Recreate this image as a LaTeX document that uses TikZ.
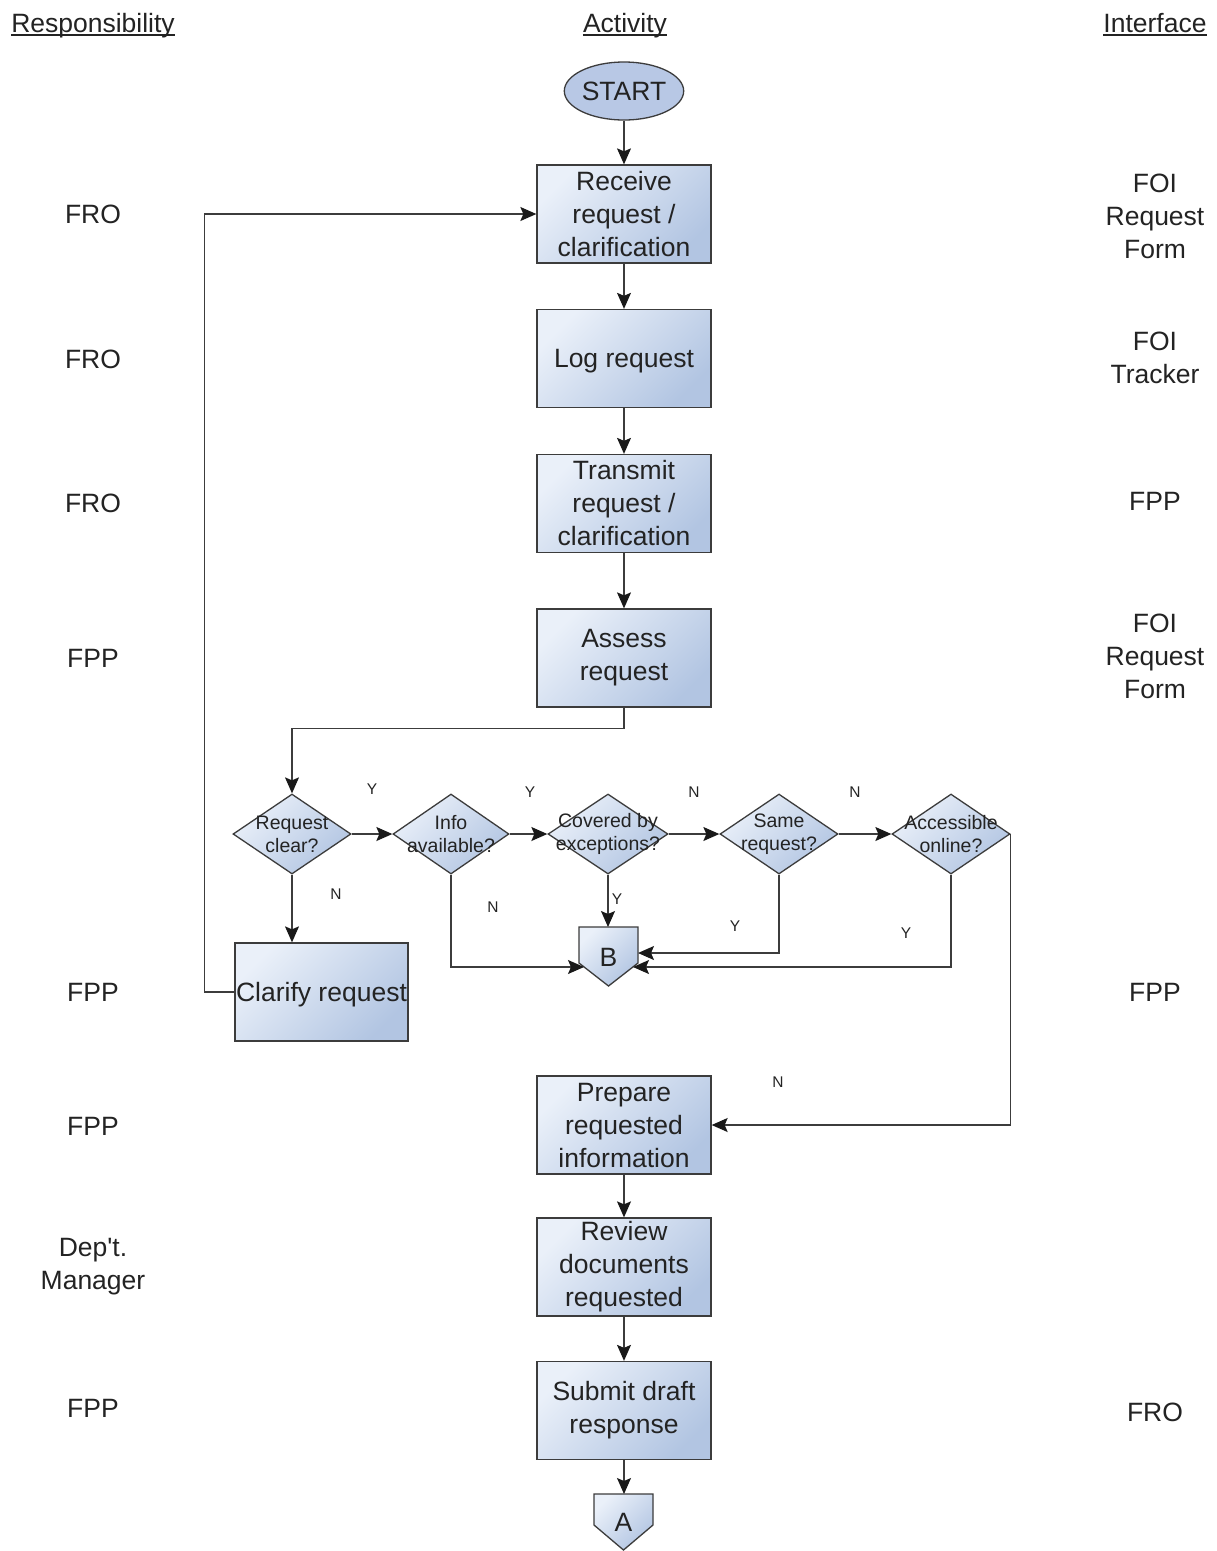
\documentclass[tikz,border=0pt]{standalone}
\usepackage{fontspec}
\setmainfont{Liberation Sans}
\usetikzlibrary{shapes.geometric,arrows.meta,calc}
\definecolor{txt}{RGB}{35,35,35}
\definecolor{ln}{RGB}{60,60,60}
\definecolor{fillL}{RGB}{234,240,249}
\definecolor{fillR}{RGB}{178,197,226}
\definecolor{startfill}{RGB}{184,200,229}
\newcommand\bigtxt{\fontsize{26.5}{33}\selectfont}
\begin{document}
\begin{tikzpicture}[x=1pt,y=-1pt,
  every node/.style={text=txt},
  boxshade/.style={left color=fillL,right color=fillR,shading angle=45},
  activity/.style={draw=ln,line width=1.3pt,boxshade,minimum width=174pt,minimum height=98pt,inner sep=1pt,align=center,font=\bigtxt},
  decision/.style={diamond,draw=ln,line width=1.3pt,boxshade,minimum width=118pt,minimum height=80pt,inner sep=0pt},
  dtext/.style={align=center,font=\fontsize{19.5}{23}\selectfont,inner sep=0pt},
  lab/.style={align=center,font=\bigtxt},
  head/.style={font=\bigtxt,inner sep=0pt,anchor=base},
  yn/.style={font=\fontsize{15.5}{18}\selectfont},
  arr/.style={draw=ln,line width=1.3pt,-{Stealth[length=16pt,width=14pt,inset=3pt,color=black!90]}},
  conn/.style={draw=ln,line width=1.3pt,boxshade},
  uline/.style={draw=txt,line width=1.2pt},
]
\useasboundingbox (0,0) rectangle (1217,1551);
\fill[white] (0,0) rectangle (1217,1551);

% headers
\node[head] (hR) at (93,32) {Responsibility};
\node[head] (hA) at (625,32) {Activity};
\node[head] (hI) at (1155,32) {Interface};
\draw[uline] ($(hR.base west)+(0,3)$) -- ($(hR.base east)+(0,3)$);
\draw[uline] ($(hA.base west)+(0,3)$) -- ($(hA.base east)+(0,3)$);
\draw[uline] ($(hI.base west)+(0,3)$) -- ($(hI.base east)+(0,3)$);

% start
\node[ellipse,draw=ln,line width=1.3pt,fill=startfill,minimum width=118pt,minimum height=58pt,inner sep=0pt,font=\bigtxt] (start) at (624,91) {START};

% activity boxes
\node[activity] (receive) at (624,214) {Receive\\request /\\clarification};
\node[activity,text depth=0pt] (log) at (624,358.5) {Log request};
\node[activity] (transmit) at (624,503.5) {Transmit\\request /\\clarification};
\node[activity] (assess) at (624,658) {Assess\\request};
\node[activity,minimum width=173pt,text depth=0pt] (clarify) at (321.5,992) {Clarify request};
\node[activity] (prepare) at (624,1125) {Prepare\\requested\\information};
\node[activity] (review) at (624,1267) {Review\\documents\\requested};
\node[activity] (submit) at (624,1410.5) {Submit draft\\response};

% decisions
\node[decision] (d1) at (292,834) {};
\node[dtext] (d1t) at (d1) {Request\\clear?};
\node[decision,minimum width=116pt] (d2) at (451,834) {};
\node[dtext] (d2t) at (d2) {Info\\available?};
\node[decision,minimum width=120pt] (d3) at (608,834) {};
\node[dtext] (d3t) at (d3) {Covered by\\exceptions?};
\node[decision] (d4) at (779,834) {};
\node[dtext] (d4t) at (d4) {Same\\request?};
\node[decision] (d5) at (951,834) {};
\node[dtext] (d5t) at (d5) {Accessible\\online?};

% off-page connectors
\path[conn] (579,927) -- (638,927) -- (638,963) -- (608.5,986) -- (579,963) -- cycle;
\node[font=\bigtxt,inner sep=0pt] (B) at (608.5,957) {B};
\coordinate (Btop) at (608,927);
\coordinate (Bin1) at (584,967);
\coordinate (Bin2) at (638,953);
\coordinate (Bin3) at (633,967);
\path[conn] (594,1494) -- (653,1494) -- (653,1525) -- (623.5,1550) -- (594,1525) -- cycle;
\node[font=\bigtxt,inner sep=0pt] (A) at (623.5,1522) {A};
\coordinate (Atop) at (624,1494);

% connectors
\draw[arr] (start) -- (receive);
\draw[arr] (receive) -- (log);
\draw[arr] (log) -- (transmit);
\draw[arr] (transmit) -- (assess);
\draw[arr] (assess.south) -- ++(0,21) -| (d1.north);
\draw[arr] (d1.east) -- (d2.west);
\draw[arr] (d2.east) -- (d3.west);
\draw[arr] (d3.east) -- (d4.west);
\draw[arr] (d4.east) -- (d5.west);
\draw[arr] (d1.south) -- (d1.south |- clarify.north);
\draw[arr] (clarify.west) -- ++(-30,0) |- (receive.west);
\draw[arr] (d3.south) -- (Btop);
\draw[arr] (d2.south) |- (Bin1);
\draw[arr] (d4.south) |- (Bin2);
\draw[arr] (d5.south) |- (Bin3);
\draw[arr] (d5.east) |- (prepare.east);
\draw[arr] (prepare) -- (review);
\draw[arr] (review) -- (submit);
\draw[arr] (submit.south) -- (Atop);

% Y/N labels
\node[yn] (y1) at (372,789) {Y};
\node[yn] (y2) at (530,792) {Y};
\node[yn] (n1) at (694,792) {N};
\node[yn] (n2) at (855,792) {N};
\node[yn] (n3) at (336,894) {N};
\node[yn] (n4) at (493,907) {N};
\node[yn] (y3) at (617,899) {Y};
\node[yn] (y4) at (735,926) {Y};
\node[yn] (y5) at (906,933) {Y};
\node[yn] (n5) at (778,1082) {N};

% responsibility column
\node[lab] (r1) at (93,214) {FRO};
\node[lab] (r2) at (93,359) {FRO};
\node[lab] (r3) at (93,503) {FRO};
\node[lab] (r4) at (93,658) {FPP};
\node[lab] (r5) at (93,992) {FPP};
\node[lab] (r6) at (93,1126) {FPP};
\node[lab] (r7) at (93,1267) {Dep\textquotesingle t.\\Manager};
\node[lab] (r8) at (93,1408) {FPP};

% interface column
\node[lab] (i1) at (1155,216) {FOI\\Request\\Form};
\node[lab] (i2) at (1155,358) {FOI\\Tracker};
\node[lab] (i3) at (1155,501) {FPP};
\node[lab] (i4) at (1155,656) {FOI\\Request\\Form};
\node[lab] (i5) at (1155,992) {FPP};
\node[lab] (i6) at (1155,1412) {FRO};
\end{tikzpicture}
\end{document}
